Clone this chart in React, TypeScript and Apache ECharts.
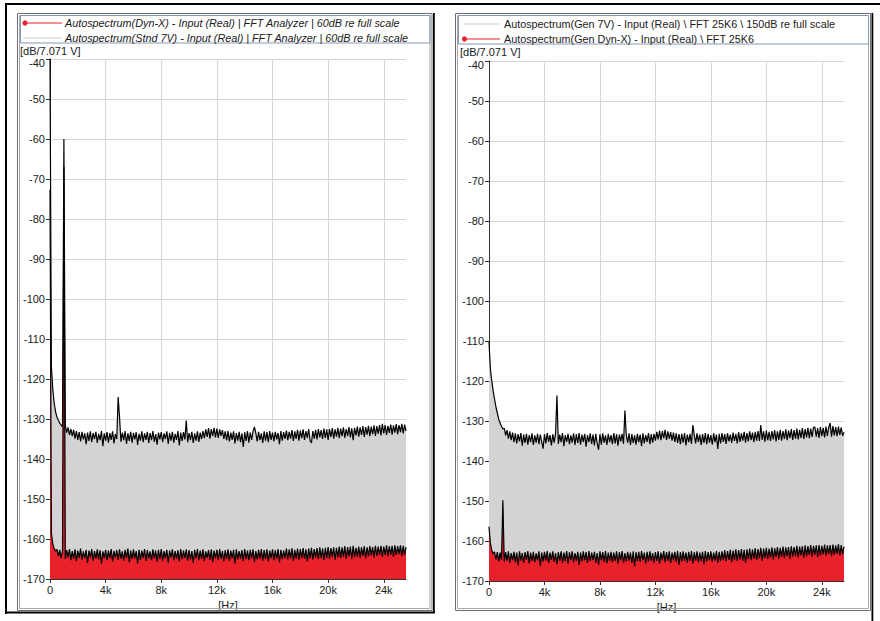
import React, { useEffect, useRef } from "react";
import * as echarts from "echarts";

// Frequency bins (Hz): 100 Hz resolution, 0 .. 25.6 kHz
const BIN_HZ = 100;
const BIN_COUNT = 257;
const FREQ: number[] = Array.from({ length: BIN_COUNT }, (_, i) => i * BIN_HZ);

const X_TICKS = [0, 4000, 8000, 12000, 16000, 20000, 24000];

const LEFT_LEGEND = [
  "Autospectrum(Dyn-X) - Input (Real) | FFT Analyzer | 60dB re full scale",
  "Autospectrum(Stnd 7V) - Input (Real) | FFT Analyzer | 60dB re full scale",
];
const RIGHT_LEGEND = [
  "Autospectrum(Gen 7V) - Input (Real) \\ FFT 25K6 \\ 150dB re full scale",
  "Autospectrum(Gen Dyn-X) - Input (Real) \\ FFT 25K6",
];
const Y_UNIT = "[dB/7.071 V]";
const X_UNIT = "[Hz]";

// Left panel – Stnd 7V (upper trace, grey fill)
const LEFT_STND = [
  -40, -117, -122.5, -126, -128.2, -129.5, -130.3, -131, -131.5, -131.9,
  -60, -131.6, -133.4, -132.1, -134.0, -132.5, -134.3, -132.7, -134.9, -133.0,
  -135.2, -133.3, -135.6, -133.2, -135.1, -133.6, -136.3, -133.4, -135.5, -133.1,
  -135.8, -133.5, -135.0, -133.2, -136.0, -133.7, -135.3, -133.0, -136.8, -133.6,
  -135.4, -133.3, -135.9, -133.5, -135.2, -133.1, -136.1, -133.8, -135.0, -124.5,
  -129.5, -135.7, -133.4, -135.3, -133.0, -136.2, -133.6, -135.5, -133.2, -135.9,
  -133.5, -135.1, -133.3, -136.5, -133.7, -135.4, -133.1, -135.8, -133.6, -135.2,
  -133.2, -136.0, -133.5, -135.3, -133.0, -135.7, -133.8, -136.4, -133.4, -135.1,
  -133.3, -135.8, -133.6, -135.0, -133.1, -136.2, -133.5, -135.4, -133.2, -135.9,
  -133.7, -135.2, -133.0, -136.6, -133.4, -135.5, -133.3, -135.1, -130.4, -135.8,
  -133.5, -135.3, -133.2, -136.0, -133.6, -135.4, -133.1, -135.7, -133.4, -135.0,
  -133.0, -134.8, -132.6, -134.5, -132.3, -134.9, -132.5, -134.3, -132.2, -134.6,
  -132.4, -134.7, -132.6, -134.2, -132.8, -135.0, -133.1, -135.3, -133.0, -135.6,
  -133.4, -135.2, -133.1, -136.1, -133.5, -135.4, -133.2, -135.8, -133.6, -137.0,
  -133.3, -135.5, -133.0, -135.9, -133.4, -135.2, -133.1, -132.0, -133.5, -135.6,
  -133.2, -135.3, -133.6, -136.0, -133.1, -135.4, -133.3, -135.8, -133.0, -135.2,
  -133.4, -135.6, -133.2, -135.1, -133.5, -136.3, -133.0, -135.4, -133.3, -135.0,
  -132.9, -135.3, -133.2, -134.9, -132.8, -135.5, -133.1, -135.0, -132.7, -135.4,
  -132.9, -134.8, -132.6, -135.2, -133.0, -134.7, -132.5, -135.3, -136.0, -133.0,
  -134.9, -132.7, -135.1, -132.5, -134.6, -132.8, -135.0, -132.4, -134.7, -132.6,
  -135.2, -132.5, -134.5, -132.3, -134.9, -132.6, -134.4, -132.2, -134.8, -132.4,
  -134.3, -132.1, -134.7, -132.5, -134.2, -132.0, -134.6, -132.3, -135.3, -132.2,
  -134.1, -131.9, -134.4, -132.1, -134.0, -131.8, -134.5, -132.0, -133.9, -131.7,
  -134.3, -131.9, -133.8, -131.6, -134.2, -131.8, -133.7, -131.5, -134.1, -131.2,
  -133.6, -131.5, -134.0, -131.7, -133.5, -131.4, -133.9, -131.6, -133.4, -131.3,
  -133.8, -131.5, -133.3, -131.2, -133.6, -131.4, -133.0,
];

// Left panel – Dyn-X (lower trace, red fill)
const LEFT_DYN = [
  -72.7, -158.5, -161.2, -162.4, -163.0, -162.6, -164.3, -162.7, -164.8, -162.9,
  -67, -165.0, -162.8, -164.6, -162.5, -165.3, -163.0, -164.9, -162.6, -165.5,
  -162.9, -164.7, -162.4, -165.2, -163.1, -164.8, -162.7, -166.0, -162.9, -164.6,
  -162.5, -165.4, -163.0, -164.9, -162.6, -165.1, -162.8, -166.2, -163.1, -164.7,
  -162.7, -165.3, -162.9, -164.8, -162.5, -165.6, -163.0, -164.6, -162.8, -165.2,
  -162.6, -164.9, -163.1, -165.4, -162.7, -164.7, -162.4, -165.8, -162.9, -165.0,
  -162.6, -164.8, -163.0, -166.1, -162.7, -165.2, -162.9, -164.7, -162.5, -165.5,
  -162.8, -164.9, -163.1, -165.3, -162.6, -164.8, -162.9, -165.7, -162.7, -165.0,
  -162.5, -165.4, -163.0, -164.8, -162.7, -165.9, -162.9, -164.6, -162.6, -165.3,
  -163.0, -164.9, -162.8, -165.6, -162.5, -165.0, -162.9, -164.7, -162.6, -165.4,
  -162.8, -165.1, -163.0, -166.0, -162.7, -164.8, -162.5, -165.3, -162.9, -164.9,
  -162.6, -165.5, -163.1, -164.7, -162.8, -165.2, -162.6, -165.8, -162.9, -164.8,
  -162.7, -165.3, -162.5, -164.9, -163.0, -165.6, -162.8, -165.0, -162.6, -165.4,
  -162.9, -164.8, -162.7, -166.1, -162.6, -165.1, -163.0, -164.9, -162.8, -165.5,
  -162.5, -165.0, -162.9, -165.3, -162.7, -164.8, -162.6, -165.7, -163.0, -165.1,
  -162.7, -164.9, -162.5, -165.4, -162.8, -165.0, -162.6, -165.6, -162.9, -164.8,
  -162.6, -165.3, -162.8, -164.9, -162.5, -165.8, -162.7, -165.0, -162.9, -164.7,
  -162.4, -165.1, -162.6, -164.8, -162.3, -165.4, -162.7, -164.9, -162.4, -165.2,
  -162.5, -164.7, -162.3, -165.0, -162.6, -165.6, -162.4, -164.8, -162.2, -165.1,
  -162.5, -164.6, -162.3, -165.0, -162.1, -164.8, -162.4, -165.3, -162.2, -164.7,
  -162.0, -164.9, -162.3, -164.5, -162.1, -165.2, -162.2, -164.6, -161.9, -164.8,
  -162.1, -164.4, -161.8, -164.9, -162.0, -164.3, -161.9, -165.0, -161.7, -164.5,
  -162.2, -164.4, -161.9, -164.7, -162.1, -164.2, -161.8, -164.8, -162.1, -164.3,
  -161.8, -164.1, -162.0, -164.6, -161.7, -164.2, -161.9, -164.0, -161.7, -164.5,
  -161.9, -164.0, -161.6, -164.3, -161.8, -163.9, -161.7, -164.4, -161.6, -164.0,
  -161.8, -163.8, -161.6, -164.2, -161.7, -163.9, -162.0,
];

// Right panel – Gen 7V (upper trace, grey fill)
const RIGHT_GEN7V = [
  -110.2, -117, -120, -122.5, -124.5, -126.5, -128, -129.5, -130.5, -131.3,
  -132, -131.8, -133.6, -132.3, -134.4, -132.6, -134.8, -132.9, -135.3, -133.1,
  -135.6, -133.3, -135.1, -133.0, -136.2, -133.4, -135.5, -133.2, -135.9, -133.5,
  -135.3, -133.1, -136.0, -133.6, -135.4, -133.2, -135.8, -133.4, -135.2, -136.9,
  -133.3, -135.6, -133.0, -135.2, -133.5, -136.1, -133.3, -135.4, -133.1, -123.6,
  -135.7, -133.4, -135.3, -133.0, -136.3, -133.5, -135.2, -133.2, -135.8, -133.6,
  -135.4, -133.1, -136.0, -133.3, -135.5, -133.0, -135.9, -133.4, -135.2, -133.2,
  -136.4, -133.5, -135.3, -133.1, -135.7, -133.4, -136.1, -133.2, -135.5, -137.2,
  -133.3, -135.9, -133.1, -135.4, -133.6, -136.0, -133.2, -135.3, -133.5, -135.8,
  -133.0, -135.6, -133.3, -136.2, -133.4, -135.1, -133.2, -135.7, -127.4, -133.5,
  -135.4, -133.1, -136.0, -133.3, -135.5, -133.6, -135.9, -133.2, -135.3, -133.4,
  -136.3, -133.1, -135.6, -133.5, -135.2, -133.0, -135.8, -133.3, -135.4, -133.2,
  -134.9, -132.7, -134.6, -132.4, -134.8, -132.5, -134.3, -132.2, -134.7, -132.6,
  -134.5, -132.8, -134.9, -132.9, -135.2, -133.1, -135.5, -133.3, -135.8, -133.2,
  -135.4, -133.0, -136.1, -133.4, -135.3, -133.2, -135.7, -131.0, -133.5, -135.6,
  -133.1, -135.2, -133.4, -136.0, -133.3, -135.5, -133.0, -135.8, -133.2, -135.4,
  -133.5, -135.9, -133.1, -135.3, -133.4, -137.0, -133.2, -135.6, -133.0, -135.2,
  -133.3, -135.7, -133.1, -135.1, -133.4, -135.5, -132.9, -135.0, -133.2, -135.6,
  -132.8, -135.2, -133.1, -134.9, -132.7, -135.4, -133.0, -135.1, -132.6, -134.8,
  -132.9, -135.3, -132.7, -134.9, -132.5, -135.0, -131.0, -134.7, -132.6, -135.2,
  -132.4, -134.8, -132.7, -135.0, -132.5, -134.6, -132.3, -135.1, -132.6, -134.7,
  -132.2, -134.9, -132.5, -134.5, -132.1, -134.8, -132.4, -134.3, -132.0, -134.7,
  -132.3, -134.4, -131.9, -134.6, -132.2, -134.2, -131.8, -134.5, -132.0, -134.1,
  -131.7, -134.3, -131.9, -134.0, -131.6, -131.5, -133.9, -131.8, -134.2, -131.5,
  -133.8, -131.7, -134.1, -131.4, -133.7, -131.6, -130.5, -133.9, -131.3, -133.6,
  -131.5, -133.8, -131.4, -133.5, -131.6, -133.7, -132.8,
];

// Right panel – Gen Dyn-X (lower trace, red fill)
const RIGHT_GENDYN = [
  -156.4, -160.5, -162.3, -163.2, -162.7, -164.6, -162.8, -165.1, -162.9, -164.7,
  -149.8, -165.2, -162.8, -164.9, -162.6, -165.5, -163.0, -164.8, -162.7, -165.3,
  -162.9, -166.1, -162.6, -164.9, -163.0, -165.4, -162.8, -164.7, -162.5, -165.6,
  -162.9, -165.0, -162.7, -165.3, -163.1, -164.8, -162.6, -166.2, -162.9, -165.1,
  -162.7, -164.9, -162.5, -165.5, -162.9, -164.7, -162.6, -165.2, -163.0, -165.8,
  -162.8, -164.9, -162.6, -165.4, -162.9, -165.0, -162.5, -165.7, -162.8, -164.8,
  -162.6, -165.3, -163.0, -164.9, -162.7, -166.0, -162.9, -165.1, -162.6, -164.8,
  -162.8, -165.5, -162.5, -165.0, -162.9, -164.7, -162.7, -165.4, -163.0, -165.9,
  -162.6, -164.8, -162.8, -165.2, -162.5, -165.6, -162.9, -164.9, -162.7, -165.3,
  -162.9, -165.0, -162.6, -165.7, -162.8, -164.8, -162.5, -165.4, -163.0, -165.1,
  -162.7, -164.9, -162.9, -165.5, -162.6, -166.3, -162.8, -165.0, -162.7, -165.2,
  -162.5, -164.8, -162.9, -165.6, -162.7, -165.1, -162.6, -164.9, -163.0, -165.4,
  -162.8, -165.0, -162.6, -165.7, -162.9, -164.8, -162.5, -165.3, -162.8, -165.0,
  -162.6, -165.5, -162.9, -164.8, -162.7, -165.2, -162.5, -166.0, -162.8, -165.1,
  -162.6, -164.9, -162.9, -165.4, -162.7, -165.0, -162.5, -165.6, -162.8, -164.9,
  -162.6, -165.3, -162.9, -165.0, -162.7, -165.8, -162.5, -165.1, -162.8, -164.8,
  -162.6, -165.2, -162.9, -164.9, -162.5, -165.5, -162.7, -165.0, -162.6, -164.8,
  -162.3, -165.1, -162.5, -164.7, -162.2, -165.3, -162.4, -164.8, -162.1, -165.0,
  -162.3, -164.6, -162.0, -164.9, -162.2, -165.4, -162.1, -164.5, -161.9, -164.8,
  -162.1, -164.4, -161.8, -164.7, -162.0, -164.3, -161.7, -164.9, -161.9, -164.2,
  -161.7, -164.5, -161.9, -164.1, -161.6, -164.6, -161.8, -164.0, -161.5, -164.4,
  -161.7, -163.9, -161.4, -164.3, -161.6, -163.8, -161.5, -164.5, -161.3, -163.9,
  -161.5, -163.7, -161.2, -164.1, -161.4, -163.6, -161.3, -164.2, -161.1, -163.8,
  -161.3, -163.5, -161.0, -163.9, -161.2, -163.4, -161.1, -164.0, -161.0, -163.6,
  -161.2, -163.3, -160.9, -163.7, -161.1, -163.2, -161.0, -163.8, -160.9, -163.4,
  -161.1, -163.2, -160.8, -163.6, -161.0, -163.3, -161.4,
];

const FONT = "Liberation Sans";
const TEXT_COLOR = "#1a1a1a";
const RED = "#e8212a";
const GREY_FILL = "#d3d3d3";
const LEGEND_GREY = "#cccccc";

function pairs(values: number[]) {
  return FREQ.map((f, i) => [f, values[i]]);
}

function fmtHz(v: number) {
  return v === 0 ? "0" : `${v / 1000}k`;
}

export default function App() {
  const ref = useRef<HTMLDivElement>(null);

  useEffect(() => {
    document.body.style.margin = "0";
    if (!ref.current) return;
    const chart = echarts.init(ref.current, undefined, { renderer: "svg" });

    const xAxisBase = (gridIndex: number) => ({
      gridIndex,
      type: "value",
      min: 0,
      max: 25600,
      interval: 4000,
      axisLine: { show: true, onZero: false, lineStyle: { color: "#333", width: 1 } },
      axisTick: { show: true, length: 4, lineStyle: { color: "#333" }, customValues: X_TICKS },
      axisLabel: {
        customValues: X_TICKS,
        formatter: (v: number) => fmtHz(v),
        margin: 5,
        fontFamily: FONT,
        fontSize: 11,
        color: TEXT_COLOR,
      },
      splitLine: { show: true, lineStyle: { color: "#d6d6d6", width: 1 } },
      name: X_UNIT,
      nameLocation: "middle",
      nameGap: 18,
      nameTextStyle: { fontFamily: FONT, fontSize: 11, color: TEXT_COLOR },
    });

    const yAxisBase = (gridIndex: number) => ({
      gridIndex,
      type: "value",
      min: -170,
      max: -40,
      interval: 10,
      axisLine: { show: true, onZero: false, lineStyle: { color: "#333", width: 1 } },
      axisTick: { show: true, length: 4, lineStyle: { color: "#333" } },
      axisLabel: {
        margin: 5,
        fontFamily: FONT,
        fontSize: 11,
        color: TEXT_COLOR,
        formatter: (v: number) => (v === -40 ? "{top|-40}" : String(v)),
        rich: {
          top: { fontFamily: FONT, fontSize: 11, color: TEXT_COLOR, padding: [7, 0, 0, 0] },
        },
      },
      splitLine: { show: true, lineStyle: { color: "#d6d6d6", width: 1 } },
    });

    const traceSeries = (idx: number, values: number[], fill: string, z: number) => ({
      type: "line",
      xAxisIndex: idx,
      yAxisIndex: idx,
      data: pairs(values),
      symbol: "none",
      showSymbol: false,
      silent: true,
      z,
      lineStyle: { color: "#000", width: 1.2 },
      areaStyle: { color: fill, origin: "start", opacity: 1 },
      emphasis: { disabled: true },
    });

    const text = (x: number, y: number, t: string, italic = false, size = 11) => ({
      type: "text",
      silent: true,
      z: 20,
      style: {
        x,
        y,
        text: t,
        font: `${italic ? "italic " : ""}${size}px "${FONT}"`,
        fill: TEXT_COLOR,
        textAlign: "left",
        textVerticalAlign: "middle",
        align: "left",
        verticalAlign: "middle",
      },
    });
    const rectStroke = (x: number, y: number, w: number, h: number, stroke: string) => ({
      type: "rect",
      silent: true,
      z: 10,
      shape: { x, y, width: w, height: h },
      style: { fill: "none", stroke, lineWidth: 1 },
    });
    const rectFill = (x: number, y: number, w: number, h: number, fill: string) => ({
      type: "rect",
      silent: true,
      z: 10,
      shape: { x, y, width: w, height: h },
      style: { fill },
    });
    const legendLine = (x1: number, x2: number, y: number, color: string) => ({
      type: "line",
      silent: true,
      z: 12,
      shape: { x1, y1: y, x2, y2: y },
      style: { stroke: color, lineWidth: 1 },
    });
    const dot = (cx: number, cy: number) => ({
      type: "circle",
      silent: true,
      z: 13,
      shape: { cx, cy, r: 2.6 },
      style: { fill: RED },
    });

    const graphics = [
      // outer black frame
      rectFill(5, 3, 875, 2, "#000"),
      rectFill(5, 3, 2, 611, "#000"),
      rectFill(5, 611.5, 430, 2, "#000"),
      rectFill(433, 13, 1.8, 600, "#000"),
      rectFill(871.5, 13, 1.8, 608, "#000"),
      // left panel double border
      rectStroke(17.5, 13.5, 414.5, 597, "#6e6e6e"),
      rectStroke(19.5, 15.5, 410.5, 593, "#a8a8a8"),
      rectStroke(20.5, 15.5, 409.5, 27.5, "#8797b0"),
      // right panel double border
      rectStroke(455.5, 13.5, 415, 597, "#6e6e6e"),
      rectStroke(457.5, 15.5, 411, 593, "#a8a8a8"),
      rectStroke(458.5, 15.5, 410, 28.5, "#8797b0"),
      // left legend
      legendLine(23, 62, 23, RED),
      dot(25, 23),
      text(65, 23, LEFT_LEGEND[0], true, 10.8),
      legendLine(23, 62, 38, LEGEND_GREY),
      text(65, 38, LEFT_LEGEND[1], true, 10.8),
      // right legend
      legendLine(463, 500, 24, LEGEND_GREY),
      text(504, 24, RIGHT_LEGEND[0], false, 10.8),
      legendLine(463, 500, 39, RED),
      dot(464.5, 39),
      text(504, 39, RIGHT_LEGEND[1], false, 10.8),
      // unit labels
      text(20, 51, Y_UNIT, false, 11),
      text(460, 52, Y_UNIT, false, 11),
    ];

    chart.setOption({
      animation: false,
      backgroundColor: "#fff",
      grid: [
        { left: 50, top: 59, width: 356, height: 520, containLabel: false },
        { left: 489, top: 61, width: 355, height: 520, containLabel: false },
      ],
      xAxis: [xAxisBase(0), xAxisBase(1)],
      yAxis: [yAxisBase(0), yAxisBase(1)],
      series: [
        traceSeries(0, LEFT_STND, GREY_FILL, 2),
        traceSeries(0, LEFT_DYN, RED, 3),
        traceSeries(1, RIGHT_GEN7V, GREY_FILL, 2),
        traceSeries(1, RIGHT_GENDYN, RED, 3),
      ],
      graphic: graphics,
    });

    return () => {
      chart.dispose();
    };
  }, []);

  return <div ref={ref} style={{ width: 880, height: 621 }} />;
}
